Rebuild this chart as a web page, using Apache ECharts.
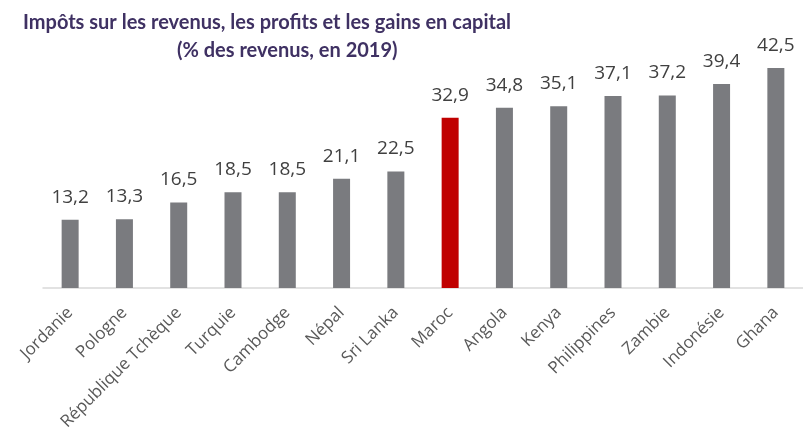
<!DOCTYPE html>
<html><head><meta charset="utf-8">
<script src="https://cdn.jsdelivr.net/npm/echarts@6/dist/echarts.min.js"></script>
<style>html,body{margin:0;padding:0;background:#fff}#c{width:803px;height:439px}</style>
</head><body><div id="c"></div>
<script>
const categories = ["Jordanie","Pologne","République Tchèque","Turquie","Cambodge","Népal","Sri Lanka","Maroc","Angola","Kenya","Philippines","Zambie","Indonésie","Ghana"];
const values = [13.2,13.3,16.5,18.5,18.5,21.1,22.5,32.9,34.8,35.1,37.1,37.2,39.4,42.5];
const highlight = "Maroc";
const titleLine1 = "Impôts sur les revenus, les profits et les gains en capital";
const titleLine2 = "(% des revenus, en 2019)";

const chart = echarts.init(document.getElementById('c'));
const tStyle = {fontFamily:'Lato',fontWeight:'bold',fontSize:20,color:'#3f3163'};
chart.setOption({
  backgroundColor:'#fff',
  title:[
    {text:titleLine1,left:18,top:8,textStyle:tStyle},
    {text:titleLine2,left:172,top:36,textStyle:tStyle}
  ],
  grid:{left:43,width:764,top:55,bottom:151,containLabel:false},
  xAxis:{type:'category',data:categories,
    axisLine:{lineStyle:{color:'#d9d9d9',width:1.5}},axisTick:{show:false},
    axisLabel:{rotate:45,interval:0,fontFamily:'Open Sans',fontSize:17,color:'#595959',margin:22}},
  yAxis:{type:'value',min:0,max:45,show:false,splitLine:{show:false}},
  series:[{type:'bar',barWidth:17,
    data:values.map((v,i)=>({value:v,itemStyle:{color:categories[i]===highlight?'#c00000':'#7a7b7f'}})),
    label:{show:true,position:'top',distance:13,fontFamily:'Open Sans',fontSize:19,color:'#404040',
      formatter:p=>p.value.toFixed(1).replace('.',',')}}]
});
</script></body></html>
